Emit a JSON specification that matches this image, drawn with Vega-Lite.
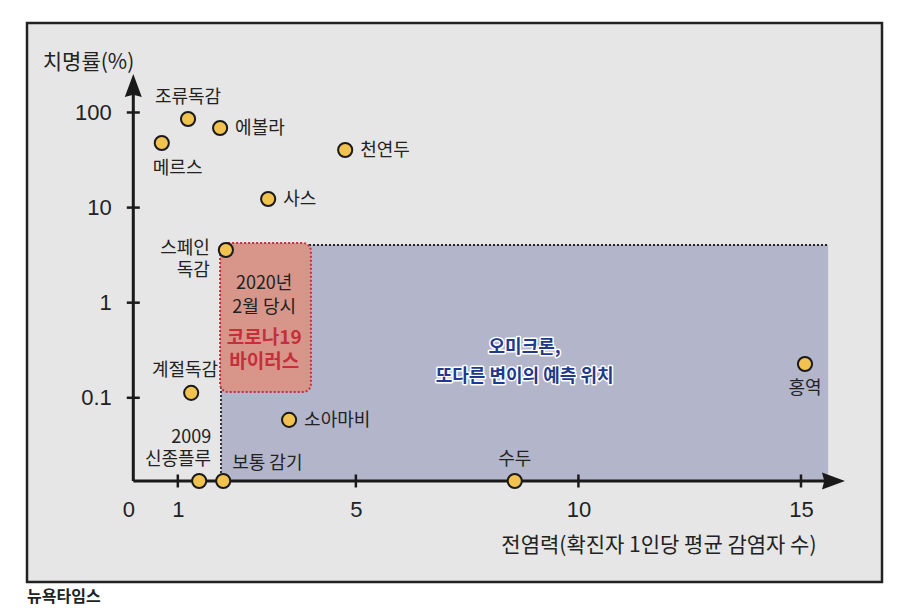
{
  "$schema": "https://vega.github.io/schema/vega-lite/v6.json",
  "width": 855,
  "height": 559,
  "autosize": {"type": "none"},
  "padding": {"left": 27, "top": 23, "right": 28, "bottom": 32},
  "background": "#ffffff",
  "config": {
    "font": "Noto Sans CJK KR",
    "view": {"fill": "#e6e6e6", "stroke": "#222222", "strokeWidth": 2.5}
  },
  "title": {
    "text": "뉴욕타임스",
    "orient": "bottom",
    "anchor": "start",
    "frame": "group",
    "offset": 7,
    "font": "Noto Sans CJK KR",
    "fontSize": 16,
    "fontWeight": "bold",
    "color": "#222222"
  },
  "datasets": {
    "diseases": [
      {"name": "조류독감", "label": "조류독감", "x": 1.23, "y": 85.5},
      {"name": "에볼라", "label": "에볼라", "x": 1.95, "y": 68.7},
      {"name": "메르스", "label": "메르스", "x": 0.64, "y": 47.8},
      {"name": "천연두", "label": "천연두", "x": 4.76, "y": 40.3},
      {"name": "사스", "label": "사스", "x": 3.03, "y": 12.3},
      {"name": "스페인독감", "label": "스페인\n독감", "x": 2.08, "y": 3.58},
      {"name": "계절독감", "label": "계절독감", "x": 1.3, "y": 0.1127},
      {"name": "소아마비", "label": "소아마비", "x": 3.5, "y": 0.0586},
      {"name": "2009신종플루", "label": "2009\n신종플루", "x": 1.48, "y": 0.01334},
      {"name": "보통감기", "label": "보통 감기", "x": 2.02, "y": 0.01334},
      {"name": "수두", "label": "수두", "x": 8.57, "y": 0.01334},
      {"name": "홍역", "label": "홍역", "x": 15.09, "y": 0.2266}
    ],
    "omicronZone": [{"x": 1.97, "x2": 15.61, "y": 0.01334, "y2": 4.04}],
    "covidZone": [{"x": 1.95, "x2": 3.99, "y": 0.115, "y2": 4.24}],
    "notes": [
      {"group": "covid_date", "text": "2020년", "x": 2.94, "y": 1.57},
      {"group": "covid_date", "text": "2월 당시", "x": 2.94, "y": 0.879},
      {"group": "covid_name", "text": "코로나19", "x": 2.94, "y": 0.425},
      {"group": "covid_name", "text": "바이러스", "x": 2.94, "y": 0.238},
      {"group": "omicron", "text": "오미크론,", "x": 8.79, "y": 0.334},
      {"group": "omicron", "text": "또다른 변이의 예측 위치", "x": 8.79, "y": 0.1655}
    ],
    "xAxisLine": [{"x": 0, "x2": 15.7, "y": 0.01334}],
    "yAxisLine": [{"x": 0, "y": 0.01334, "y2": 200}],
    "xTicks": [{"x": 1, "y": 0.01334}, {"x": 5, "y": 0.01334}, {"x": 10, "y": 0.01334}, {"x": 15, "y": 0.01334}],
    "yTicks": [{"x": 0, "y": 0.1}, {"x": 0, "y": 1}, {"x": 0, "y": 10}, {"x": 0, "y": 100}],
    "xArrow": [{"x": 15.73, "y": 0.01334}],
    "yArrow": [{"x": 0, "y": 192}]
  },
  "encoding": {
    "x": {
      "field": "x",
      "type": "quantitative",
      "scale": {"domain": [-2.388, 16.82], "nice": false, "zero": false},
      "axis": {
        "title": "전염력(확진자 1인당 평균 감염자 수)",
        "values": [0, 1, 5, 10, 15],
        "format": "~g",
        "domain": false,
        "ticks": false,
        "grid": false,
        "offset": -101,
        "labelPadding": 18,
        "labelFont": "Liberation Sans",
        "labelFontSize": 22,
        "labelColor": "#222222",
        "labelOffset": {"condition": {"test": "datum.value === 0", "value": -5}, "value": 0},
        "titleFont": "Noto Sans CJK KR",
        "titleFontSize": 21,
        "titleFontWeight": "normal",
        "titleColor": "#222222",
        "titleX": 789,
        "titleY": 64,
        "titleAlign": "right",
        "titleBaseline": "middle"
      }
    },
    "y": {
      "field": "y",
      "type": "quantitative",
      "scale": {"type": "log", "domain": [0.001156, 873], "nice": false},
      "axis": {
        "title": "치명률(%)",
        "values": [0.1, 1, 10, 100],
        "format": "~g",
        "domain": false,
        "ticks": false,
        "grid": false,
        "offset": -106.3,
        "labelPadding": 22,
        "labelFont": "Liberation Sans",
        "labelFontSize": 22,
        "labelColor": "#222222",
        "titleFont": "Noto Sans CJK KR",
        "titleFontSize": 21,
        "titleFontWeight": "normal",
        "titleColor": "#222222",
        "titleAngle": 0,
        "titleX": -91,
        "titleY": 39,
        "titleAlign": "left",
        "titleBaseline": "middle"
      }
    }
  },
  "layer": [
    {
      "data": {"name": "omicronZone"},
      "mark": {"type": "rect", "fill": "#b3b5cb", "strokeWidth": 0},
      "encoding": {"x2": {"field": "x2"}, "y2": {"field": "y2"}}
    },
    {
      "data": {"name": "omicronZone"},
      "mark": {"type": "rule", "color": "#222222", "strokeWidth": 1.8, "strokeDash": [2, 2]},
      "encoding": {"x2": {"field": "x2"}, "y": {"field": "y2", "type": "quantitative"}}
    },
    {
      "data": {"name": "omicronZone"},
      "mark": {"type": "rule", "color": "#222222", "strokeWidth": 1.8, "strokeDash": [2, 2]},
      "encoding": {"y2": {"field": "y2"}}
    },
    {
      "data": {"name": "covidZone"},
      "mark": {"type": "rect", "fill": "#d8968a", "stroke": "#c4303a", "strokeWidth": 2, "strokeDash": [2, 2], "cornerRadius": 8},
      "encoding": {"x2": {"field": "x2"}, "y2": {"field": "y2"}}
    },
    {
      "data": {"name": "notes"},
      "transform": [{"filter": "datum.group === 'covid_date'"}],
      "mark": {"type": "text", "font": "Noto Sans CJK KR", "fontSize": 18, "color": "#222222", "align": "center", "baseline": "middle"},
      "encoding": {"text": {"field": "text"}}
    },
    {
      "data": {"name": "notes"},
      "transform": [{"filter": "datum.group === 'covid_name'"}],
      "mark": {"type": "text", "font": "Noto Sans CJK KR", "fontSize": 19, "fontWeight": "bold", "color": "#c4303a", "align": "center", "baseline": "middle"},
      "encoding": {"text": {"field": "text"}}
    },
    {
      "data": {"name": "notes"},
      "transform": [{"filter": "datum.group === 'omicron'"}],
      "mark": {"type": "text", "font": "Noto Sans CJK KR", "fontSize": 18, "fontWeight": "bold", "fill": "#ffffff", "stroke": "#ffffff", "strokeWidth": 3, "strokeJoin": "round", "align": "center", "baseline": "middle"},
      "encoding": {"text": {"field": "text"}}
    },
    {
      "data": {"name": "notes"},
      "transform": [{"filter": "datum.group === 'omicron'"}],
      "mark": {"type": "text", "font": "Noto Sans CJK KR", "fontSize": 18, "fontWeight": "bold", "color": "#1f3a8a", "align": "center", "baseline": "middle"},
      "encoding": {"text": {"field": "text"}}
    },
    {
      "data": {"name": "xAxisLine"},
      "mark": {"type": "rule", "color": "#1a1a1a", "strokeWidth": 3},
      "encoding": {"x2": {"field": "x2"}}
    },
    {
      "data": {"name": "yAxisLine"},
      "mark": {"type": "rule", "color": "#1a1a1a", "strokeWidth": 3},
      "encoding": {"y2": {"field": "y2"}}
    },
    {
      "data": {"name": "xTicks"},
      "mark": {"type": "tick", "orient": "vertical", "color": "#1a1a1a", "size": 13, "thickness": 2.5, "opacity": 1}
    },
    {
      "data": {"name": "yTicks"},
      "mark": {"type": "tick", "orient": "horizontal", "color": "#1a1a1a", "size": 13, "thickness": 2.5, "opacity": 1}
    },
    {
      "data": {"name": "xArrow"},
      "mark": {"type": "point", "shape": "M1,0L-1,-0.74L-0.8,0L-1,0.74Z", "size": 529, "filled": true, "color": "#1a1a1a", "opacity": 1}
    },
    {
      "data": {"name": "yArrow"},
      "mark": {"type": "point", "shape": "M0,-1L0.74,1L0,0.8L-0.74,1Z", "size": 529, "filled": true, "color": "#1a1a1a", "opacity": 1}
    },
    {
      "data": {"name": "diseases"},
      "mark": {"type": "circle", "size": 200, "fill": "#f1c24f", "stroke": "#1a1a1a", "strokeWidth": 2, "opacity": 1}
    },
    {
      "data": {"name": "diseases"},
      "transform": [{"filter": {"field": "name", "oneOf": ["에볼라", "천연두", "사스", "소아마비"]}}],
      "mark": {"type": "text", "font": "Noto Sans CJK KR", "fontSize": 18, "color": "#222222", "align": "left", "baseline": "middle", "dx": 15, "dy": 1},
      "encoding": {"text": {"field": "label"}}
    },
    {
      "data": {"name": "diseases"},
      "transform": [{"filter": {"field": "name", "oneOf": ["조류독감", "수두"]}}],
      "mark": {"type": "text", "font": "Noto Sans CJK KR", "fontSize": 18, "color": "#222222", "align": "center", "baseline": "middle", "dy": -21},
      "encoding": {"text": {"field": "label"}}
    },
    {
      "data": {"name": "diseases"},
      "transform": [{"filter": {"field": "name", "oneOf": ["홍역"]}}],
      "mark": {"type": "text", "font": "Noto Sans CJK KR", "fontSize": 18, "color": "#222222", "align": "center", "baseline": "middle", "dy": 25},
      "encoding": {"text": {"field": "label"}}
    },
    {
      "data": {"name": "diseases"},
      "transform": [{"filter": {"field": "name", "oneOf": ["메르스"]}}],
      "mark": {"type": "text", "font": "Noto Sans CJK KR", "fontSize": 18, "color": "#222222", "align": "left", "baseline": "middle", "dx": -9, "dy": 26},
      "encoding": {"text": {"field": "label"}}
    },
    {
      "data": {"name": "diseases"},
      "transform": [{"filter": {"field": "name", "oneOf": ["스페인독감"]}}],
      "mark": {"type": "text", "font": "Noto Sans CJK KR", "fontSize": 18, "color": "#222222", "align": "right", "baseline": "top", "lineBreak": "\n", "lineHeight": 22, "dx": -16, "dy": -10},
      "encoding": {"text": {"field": "label"}}
    },
    {
      "data": {"name": "diseases"},
      "transform": [{"filter": {"field": "name", "oneOf": ["2009신종플루"]}}],
      "mark": {"type": "text", "font": "Noto Sans CJK KR", "fontSize": 18, "color": "#222222", "align": "right", "baseline": "top", "lineBreak": "\n", "lineHeight": 22, "dx": 12, "dy": -52},
      "encoding": {"text": {"field": "label"}}
    },
    {
      "data": {"name": "diseases"},
      "transform": [{"filter": {"field": "name", "oneOf": ["계절독감"]}}],
      "mark": {"type": "text", "font": "Noto Sans CJK KR", "fontSize": 18, "color": "#222222", "align": "right", "baseline": "middle", "dx": 27, "dy": -22},
      "encoding": {"text": {"field": "label"}}
    },
    {
      "data": {"name": "diseases"},
      "transform": [{"filter": {"field": "name", "oneOf": ["보통감기"]}}],
      "mark": {"type": "text", "font": "Noto Sans CJK KR", "fontSize": 18, "color": "#222222", "align": "left", "baseline": "middle", "dx": 9, "dy": -17},
      "encoding": {"text": {"field": "label"}}
    }
  ]
}
